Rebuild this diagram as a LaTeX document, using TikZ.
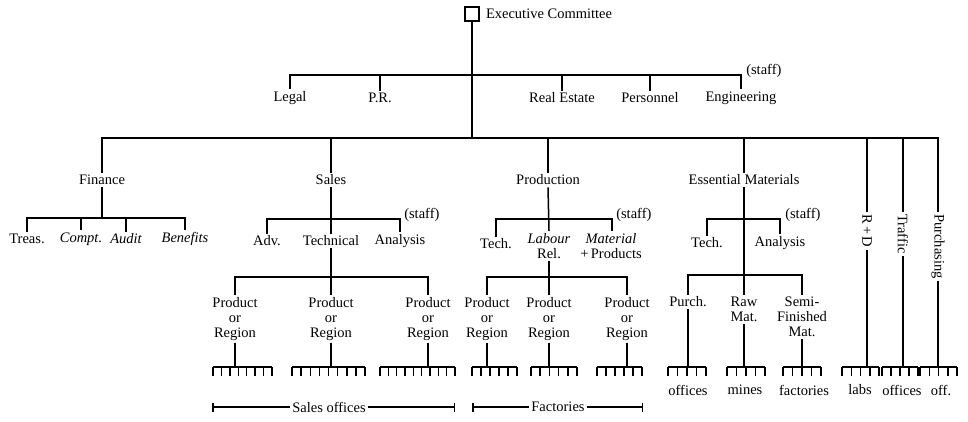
\documentclass[tikz,border=0pt]{standalone}
\usepackage{fontspec}
\setmainfont{Liberation Serif}
\usepackage{tikz}
\usetikzlibrary{arrows.meta}
\usetikzlibrary{positioning}

% a row of tines: left x, right x, number of tines
\newcommand\tines[3]{%
  \draw (#1,367) -- (#2,367);
  \foreach \k in {1,...,#3}
    \draw ({#1+(\k-1)*(#2-#1)/(#3-1)},367) -- ++(0,9);
}

\begin{document}
\begin{tikzpicture}[x=1pt, y=-1pt, line width=1.5pt,
    every node/.style={font=\fontsize{14.5}{15}\selectfont, inner sep=1.5pt, align=center}]
    \useasboundingbox (0,0) rectangle (968,421);

    % top
    \node[draw, minimum size=14pt, inner sep=0pt] (exec) at (472,14) {};
    \node[right=4pt of exec] (excom) {Executive Committee};
    \coordinate (engTop) at (741,75);
    \coordinate (purchTop) at (938,138);

    \node (legal) at (290,98) {Legal};
    \node (pr) at (380,98) {P.R.};
    \node (realestate) at (562,98) {Real Estate};
    \node (personnel) at (650,98) {Personnel};
    \node (engineering) at (741,98) {Engineering};
    \node[anchor=west] (staffA) at (744,71) {(staff)};

    \draw (exec.south) -- (exec.south |- purchTop);
    \draw (legal.north) |- (engTop) -- (engineering.north);
    \draw (pr.north) -- (pr.north |- engTop);
    \draw (realestate.north) -- (realestate.north |- engTop);
    \draw (personnel.north) -- (personnel.north |- engTop);

    % departments
    \node (finance) at (102,180) {Finance};
    \node (sales) at (331,180) {Sales};
    \node (production) at (548,180) {Production};
    \node (essmat) at (744,180) {Essential Materials};
    \node[rotate=-90, anchor=west] (rd) at (867,212) {R\,+\,D};
    \node[rotate=-90, anchor=west] (traffic) at (903,212) {Traffic};
    \node[rotate=-90, anchor=west] (purchasing) at (938,212) {Purchasing};

    \draw (finance.north) |- (purchTop) -- (purchasing.west);
    \draw (sales.north) -- (sales.north |- purchTop);
    \draw (production.north) -- (production.north |- purchTop);
    \draw (essmat.north) -- (essmat.north |- purchTop);
    \draw (rd.west) -- (rd.west |- purchTop);
    \draw (traffic.west) -- (traffic.west |- purchTop);

    % finance
    \coordinate (benTop) at (185,218);
    \node (treas) at (27,239) {Treas.};
    \node (compt) at (81,239) {\itshape Compt.};
    \node (audit) at (126,239) {\itshape Audit};
    \node (benefits) at (185,239) {\itshape Benefits};
    \draw (finance.south) -- (finance.south |- benTop);
    \draw (treas.north) |- (benTop) -- (benefits.north);
    \draw (compt.north) -- (compt.north |- benTop);
    \draw (audit.north) -- (audit.north |- benTop);

    % sales
    \coordinate (anaTop) at (400,219);
    \node (adv) at (267,241) {Adv.};
    \node (technical) at (331,241) {Technical};
    \node (analysis) at (400,241) {Analysis};
    \node[anchor=west] (staffB) at (402,215) {(staff)};
    \draw (sales.south) -- (technical.north);
    \draw (adv.north) |- (anaTop) -- (analysis.north);

    \coordinate (sregTop) at (428,277);
    \node[anchor=north] (sreg1) at (235,295) {Product\\or\\Region};
    \node[anchor=north] (sreg2) at (331,295) {Product\\or\\Region};
    \node[anchor=north] (sreg3) at (428,295) {Product\\or\\Region};
    \draw (technical.south) -- (sreg2.north);
    \draw (sreg1.north) |- (sregTop) -- (sreg3.north);

    % production
    \coordinate (matTop) at (612,219);
    \node (ptech) at (496,244) {Tech.};
    \node[anchor=north] (labour) at (549,231) {\itshape Labour\\Rel.};
    \node[anchor=north] (material) at (611,231) {\itshape Material\\+\,Products};
    \node[anchor=west] (staffC) at (614,215) {(staff)};
    \draw (production.south) -- (labour.north);
    \draw (ptech.north) |- (matTop) -- (matTop |- material.north);

    \coordinate (pregTop) at (627,277);
    \node[anchor=north] (preg1) at (487,295) {Product\\or\\Region};
    \node[anchor=north] (preg2) at (549,295) {Product\\or\\Region};
    \node[anchor=north] (preg3) at (627,295) {Product\\or\\Region};
    \draw (labour.south) -- (preg2.north);
    \draw (preg1.north) |- (pregTop) -- (preg3.north);

    % essential materials
    \coordinate (eanTop) at (780,219);
    \node (etech) at (707,243) {Tech.};
    \node (eanalysis) at (780,243) {Analysis};
    \node[anchor=west] (staffD) at (783,215) {(staff)};
    \draw (etech.north) |- (eanTop) -- (eanalysis.north);

    \coordinate (semiTop) at (802,275);
    \node (purch) at (688,302) {Purch.};
    \node[anchor=north] (rawmat) at (744,295) {Raw\\Mat.};
    \node[anchor=north] (semifin) at (802,295) {Semi-\\Finished\\Mat.};
    \draw (essmat.south) -- (rawmat.north);
    \draw (purch.north) |- (semiTop) -- (semifin.north);

    % tines
    \coordinate (t1) at (235,367);
    \coordinate (t2) at (331,367);
    \coordinate (t3) at (428,367);
    \coordinate (t4) at (487,367);
    \coordinate (t5) at (549,367);
    \coordinate (t6) at (627,367);
    \coordinate (t7) at (688,367);
    \coordinate (t8) at (744,367);
    \coordinate (t9) at (802,367);
    \coordinate (t10) at (867,367);
    \coordinate (t11) at (903,367);
    \coordinate (t12) at (938,367);
    \draw (sreg1.south) -- (t1);
    \draw (sreg2.south) -- (t2);
    \draw (sreg3.south) -- (t3);
    \draw (preg1.south) -- (t4);
    \draw (preg2.south) -- (t5);
    \draw (preg3.south) -- (t6);
    \draw (purch.south) -- (t7);
    \draw (rawmat.south) -- (t8);
    \draw (semifin.south) -- (t9);
    \draw (rd.east) -- (t10);
    \draw (traffic.east) -- (t11);
    \draw (purchasing.east) -- (t12);

    \tines{213}{272}{8}
    \tines{292}{365}{9}
    \tines{380}{455}{10}
    \tines{472}{517}{6}
    \tines{531}{577}{6}
    \tines{597}{642}{6}
    \tines{668}{706}{5}
    \tines{727}{765}{5}
    \tines{783}{821}{5}
    \tines{842}{879}{5}
    \tines{882}{918}{5}
    \tines{920}{957}{5}

    \node (offices) at (688,390) {offices};
    \node (mines) at (745,390) {mines};
    \node (factories) at (804,390) {factories};
    \node (labs) at (860,390) {labs};
    \node (offices2) at (902,390) {offices};
    \node (off) at (941,390) {off.};

    % spans
    \coordinate (soL) at (212,407);
    \coordinate (soR) at (455,407);
    \coordinate (faL) at (472,407);
    \coordinate (faR) at (643,407);
    \node (salesoff) at (329,407) {Sales offices};
    \node (fact) at (558,407) {Factories};
    \draw[{Bar[width=9pt]}-] (soL) -- (salesoff.west);
    \draw[-{Bar[width=9pt]}] (salesoff.east) -- (soR);
    \draw[{Bar[width=9pt]}-] (faL) -- (fact.west);
    \draw[-{Bar[width=9pt]}] (fact.east) -- (faR);
\end{tikzpicture}
\end{document}
